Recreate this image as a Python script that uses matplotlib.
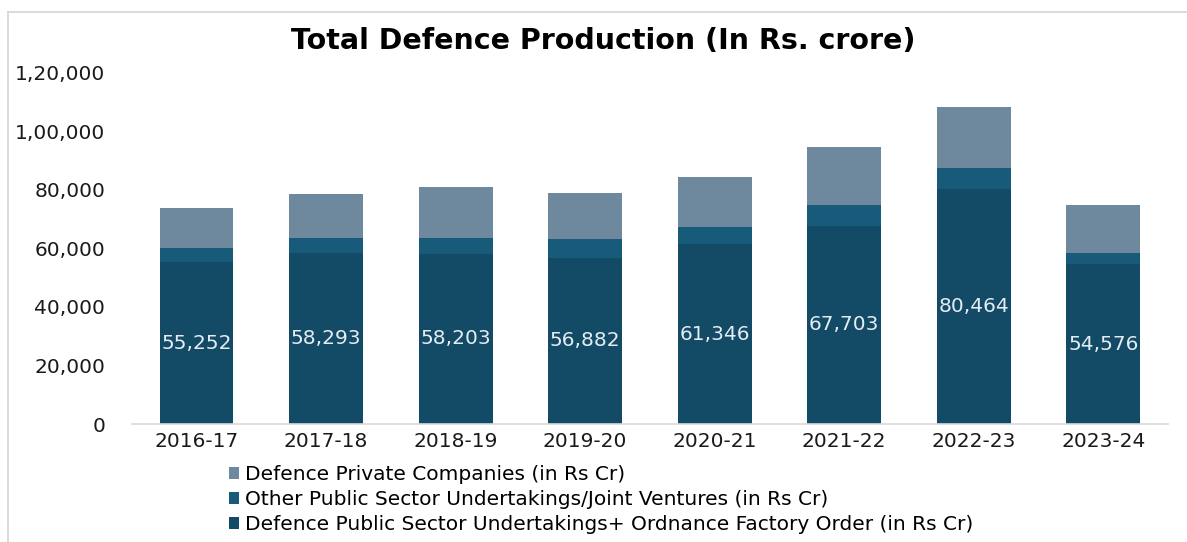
import matplotlib
matplotlib.use("Agg")
import matplotlib.pyplot as plt
from matplotlib.lines import Line2D
import numpy as np

# Financial years
years = ["2016-17", "2017-18", "2018-19", "2019-20",
         "2020-21", "2021-22", "2022-23", "2023-24"]

# Production by sector (Rs crore)
dpsu_ofb = [55252, 58293, 58203, 56882, 61346, 67703, 80464, 54576]
other_psu_jv = [4750, 5100, 5200, 6200, 6100, 7000, 6900, 3900]
private = [13900, 15300, 17600, 15900, 16900, 20000, 21100, 16300]

# Y axis ticks (Indian digit grouping)
y_ticks = [0, 20000, 40000, 60000, 80000, 100000, 120000]
y_tick_labels = ["0", "20,000", "40,000", "60,000", "80,000", "1,00,000", "1,20,000"]

labels = {
    "private": "Defence Private Companies (in Rs Cr)",
    "other": "Other Public Sector Undertakings/Joint Ventures (in Rs Cr)",
    "dpsu": "Defence Public Sector Undertakings+ Ordnance Factory Order (in Rs Cr)",
}

c_dpsu = "#134a66"
c_other = "#175a79"
c_private = "#6e889d"

plt.rcParams["font.family"] = ["DejaVu Sans"]

fig = plt.figure(figsize=(11.87, 5.42), dpi=100)
ax = fig.add_axes([0.111, 0.2177, 0.873, 0.648])

x = np.arange(len(years))
w = 0.57
dp = np.array(dpsu_ofb)
ot = np.array(other_psu_jv)
pr = np.array(private)

b1 = ax.bar(x, dp, w, color=c_dpsu, label=labels["dpsu"], zorder=2)
b2 = ax.bar(x, ot, w, bottom=dp, color=c_other, label=labels["other"], zorder=2)
b3 = ax.bar(x, pr, w, bottom=dp + ot, color=c_private, label=labels["private"], zorder=2)

ax.bar_label(b1, labels=[f"{v:,}" for v in dpsu_ofb], label_type="center",
             color="#e4edf4", fontsize=14.5)

ax.set_xlim(-0.5, len(years) - 0.5)
ax.set_ylim(0, 120000)
ax.set_yticks(y_ticks)
ax.set_yticklabels(y_tick_labels, fontsize=14.5, color="#1a1a1a")
ax.set_xticks(x)
ax.set_xticklabels(years, fontsize=14.5, color="#1a1a1a")
ax.tick_params(axis="both", length=0)
ax.tick_params(axis="y", pad=19)
ax.tick_params(axis="x", pad=6)

for s in ["top", "right", "left"]:
    ax.spines[s].set_visible(False)
ax.spines["bottom"].set_color("#d9d9d9")
ax.spines["bottom"].set_linewidth(1.2)

fig.text(0.508, 0.924, "Total Defence Production (In Rs. crore)",
         ha="center", va="center", fontsize=20.5, fontweight="bold", color="#000000")

handles = [b3, b2, b1]
leg = fig.legend(handles=handles, labels=[labels["private"], labels["other"], labels["dpsu"]],
                 loc="upper left", frameon=False, fontsize=14.5,
                 handlelength=0.5, handleheight=0.5,
                 handletextpad=0.3, labelspacing=0.3, borderaxespad=0,
                 borderpad=0)
leg.set_bbox_to_anchor((0.193, 1 - 465 / 542), transform=fig.transFigure)

# Light frame along the top and left edges
fig.add_artist(Line2D([8 / 1187, 8 / 1187], [0, 1 - 12 / 542],
                      transform=fig.transFigure, color="#d4d4d4", lw=1.2))
fig.add_artist(Line2D([8 / 1187, 1], [1 - 12 / 542, 1 - 12 / 542],
                      transform=fig.transFigure, color="#d4d4d4", lw=1.2))

fig.savefig("out.png", dpi=100, facecolor="white")
